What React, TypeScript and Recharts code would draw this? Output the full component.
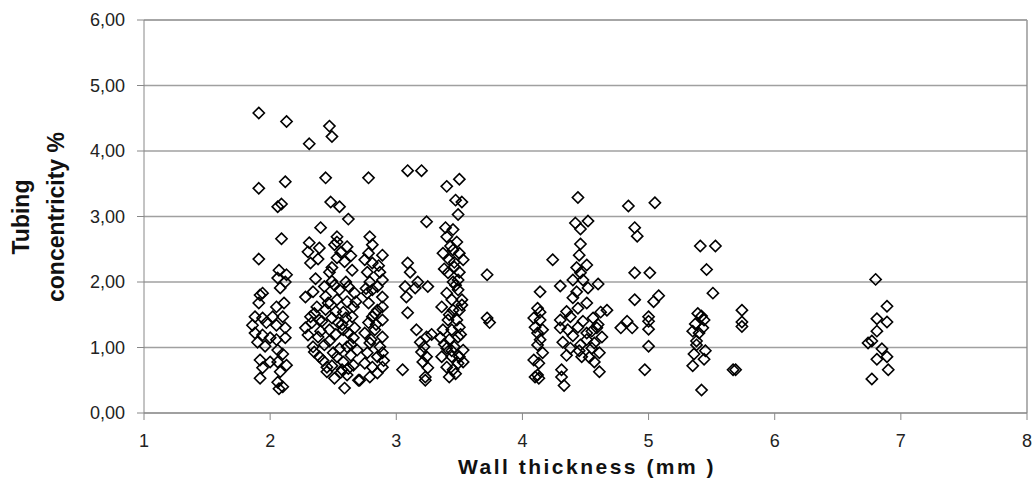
import React from "react";
import {
  ScatterChart,
  Scatter,
  XAxis,
  YAxis,
  CartesianGrid,
  ReferenceLine,
} from "recharts";

// wall thickness (mm) / tubing concentricity (%) pairs, grouped by cluster
const wall19to21: [number, number][] = [
  [1.91, 4.58], [2.13, 4.45], [1.91, 3.43], [2.12, 3.53], [2.09, 3.19], [2.06, 3.15],
  [2.09, 2.66], [1.91, 2.35], [2.07, 2.18], [2.13, 2.11], [2.06, 2.06], [2.12, 2.0],
  [2.08, 1.91], [1.94, 1.83], [1.92, 1.8], [1.91, 1.68], [2.05, 1.62], [2.11, 1.68],
  [1.88, 1.47], [1.94, 1.45], [1.86, 1.34], [1.97, 1.38], [2.02, 1.47], [2.1, 1.47],
  [2.12, 1.3], [2.05, 1.34], [1.88, 1.22], [1.94, 1.19], [2.0, 1.15], [1.9, 1.08],
  [2.05, 1.12], [2.12, 1.15], [2.06, 0.96], [1.92, 0.81], [2.0, 0.78], [1.94, 0.69],
  [2.06, 0.78], [2.13, 0.73], [2.08, 0.63], [1.92, 0.53], [2.06, 0.47], [2.1, 0.4],
  [2.07, 0.37], [1.96, 1.02], [2.1, 0.9],
];

const wall23to27: [number, number][] = [
  [2.31, 4.11], [2.47, 4.38], [2.49, 4.22], [2.44, 3.59], [2.48, 3.22], [2.55, 3.15],
  [2.62, 2.96], [2.4, 2.83], [2.31, 2.6], [2.3, 2.46], [2.39, 2.52], [2.32, 2.29],
  [2.53, 2.69], [2.51, 2.57], [2.61, 2.54], [2.53, 2.37], [2.59, 2.31], [2.65, 2.18],
  [2.49, 2.22], [2.53, 2.61], [2.28, 1.77], [2.34, 1.85], [2.43, 1.93], [2.49, 2.01],
  [2.55, 1.88], [2.62, 1.93], [2.67, 1.83], [2.37, 1.62], [2.46, 1.68], [2.53, 1.73],
  [2.61, 1.7], [2.32, 1.47], [2.39, 1.42], [2.49, 1.45], [2.58, 1.54], [2.65, 1.47],
  [2.66, 1.62], [2.33, 1.38], [2.54, 1.38], [2.3, 1.19], [2.38, 1.16], [2.47, 1.27],
  [2.58, 1.27], [2.66, 1.15], [2.43, 1.04], [2.5, 0.92], [2.61, 1.01], [2.69, 0.96],
  [2.34, 1.01], [2.45, 0.7], [2.53, 0.86], [2.58, 0.78], [2.66, 0.73], [2.51, 0.53],
  [2.61, 0.58], [2.7, 0.5], [2.59, 0.38], [2.39, 0.86], [2.57, 0.66], [2.36, 2.05],
  [2.44, 1.78], [2.52, 1.55], [2.57, 1.35], [2.4, 1.25], [2.47, 1.1], [2.62, 1.22],
  [2.55, 0.98], [2.35, 0.93], [2.64, 0.88], [2.42, 0.8], [2.49, 0.72], [2.56, 0.62],
  [2.62, 0.68], [2.45, 0.63], [2.67, 1.3], [2.28, 1.3], [2.6, 2.0], [2.47, 2.15],
  [2.38, 2.35], [2.56, 2.45], [2.64, 2.4], [2.51, 1.95], [2.44, 1.58], [2.35, 1.52],
  [2.6, 1.45], [2.52, 1.2], [2.41, 1.4], [2.68, 1.7], [2.64, 1.05],
];

const wall27to29: [number, number][] = [
  [2.78, 3.59], [2.79, 2.69], [2.81, 2.57], [2.78, 2.44], [2.89, 2.41], [2.75, 2.34],
  [2.81, 2.29], [2.87, 2.15], [2.77, 2.15], [2.89, 2.03], [2.79, 2.0], [2.85, 1.93],
  [2.77, 1.83], [2.81, 1.88], [2.89, 1.77], [2.78, 1.68], [2.85, 1.57], [2.89, 1.62],
  [2.81, 1.47], [2.89, 1.42], [2.78, 1.38], [2.75, 1.22], [2.83, 1.27], [2.89, 1.16],
  [2.79, 1.07], [2.87, 1.01], [2.77, 0.92], [2.85, 0.86], [2.89, 0.92], [2.75, 0.76],
  [2.81, 0.7], [2.89, 0.7], [2.79, 0.55], [2.85, 0.61], [2.71, 0.5], [2.83, 1.52],
  [2.8, 1.12], [2.86, 2.25], [2.76, 1.9], [2.84, 1.35], [2.9, 0.8],
];

const wall30to33: [number, number][] = [
  [3.09, 3.7], [3.2, 3.7], [3.24, 2.92], [3.09, 2.29], [3.11, 2.15], [3.07, 1.93],
  [3.17, 2.0], [3.25, 1.93], [3.15, 1.91], [3.08, 1.77], [3.09, 1.53], [3.16, 1.27],
  [3.24, 1.16], [3.19, 1.08], [3.2, 0.93], [3.24, 0.86], [3.21, 0.78], [3.25, 0.69],
  [3.23, 0.55], [3.23, 0.5], [3.05, 0.66], [3.22, 1.01], [3.28, 1.2],
];

const wall34to35: [number, number][] = [
  [3.4, 3.46], [3.5, 3.57], [3.47, 3.25], [3.52, 3.22], [3.49, 3.03], [3.39, 2.83],
  [3.45, 2.8], [3.4, 2.69], [3.48, 2.61], [3.45, 2.49], [3.37, 2.44], [3.5, 2.44],
  [3.42, 2.34], [3.53, 2.34], [3.46, 2.23], [3.41, 2.14], [3.5, 2.15], [3.45, 2.0],
  [3.49, 2.03], [3.4, 1.83], [3.49, 1.88], [3.44, 1.73], [3.52, 1.73], [3.36, 1.62],
  [3.45, 1.57], [3.5, 1.57], [3.41, 1.42], [3.48, 1.42], [3.37, 1.27], [3.44, 1.27],
  [3.5, 1.31], [3.35, 1.15], [3.42, 1.12], [3.49, 1.16], [3.4, 0.99], [3.46, 1.01],
  [3.53, 0.96], [3.36, 0.86], [3.44, 0.86], [3.5, 0.86], [3.4, 0.7], [3.45, 0.66],
  [3.49, 0.76], [3.42, 0.55], [3.53, 0.78], [3.43, 2.55], [3.38, 2.2], [3.47, 1.95],
  [3.42, 1.5], [3.51, 1.2], [3.38, 1.05], [3.47, 0.6], [3.44, 0.95], [3.46, 2.3],
  [3.52, 1.65],
];

const wall37: [number, number][] = [
  [3.72, 2.11], [3.72, 1.45], [3.74, 1.38],
];

const wall41: [number, number][] = [
  [4.14, 1.85], [4.12, 1.6], [4.14, 1.54], [4.09, 1.45], [4.14, 1.42], [4.1, 1.31],
  [4.16, 1.27], [4.12, 1.22], [4.14, 1.12], [4.12, 1.04], [4.16, 0.92], [4.09, 0.81],
  [4.13, 0.76], [4.12, 0.58], [4.13, 0.53], [4.1, 0.55],
];

const wall42to46: [number, number][] = [
  [4.44, 3.29], [4.42, 2.9], [4.52, 2.93], [4.46, 2.81], [4.46, 2.58], [4.24, 2.34],
  [4.45, 2.41], [4.43, 2.22], [4.51, 2.26], [4.46, 2.14], [4.4, 2.03], [4.48, 2.03],
  [4.3, 1.94], [4.6, 1.97], [4.52, 1.91], [4.43, 1.85], [4.4, 1.76], [4.51, 1.68],
  [4.44, 1.6], [4.62, 1.54], [4.67, 1.57], [4.56, 1.45], [4.38, 1.47], [4.3, 1.42],
  [4.3, 1.3], [4.36, 1.27], [4.44, 1.31], [4.51, 1.22], [4.59, 1.3], [4.63, 1.16],
  [4.57, 1.07], [4.32, 1.08], [4.38, 0.99], [4.46, 1.04], [4.51, 1.12], [4.55, 0.99],
  [4.61, 0.92], [4.47, 0.86], [4.57, 0.78], [4.61, 0.63], [4.31, 0.66], [4.31, 0.55],
  [4.33, 0.42], [4.35, 1.55], [4.48, 1.4], [4.55, 1.25], [4.4, 1.18], [4.6, 1.35],
  [4.45, 0.95], [4.53, 0.85], [4.35, 0.88],
];

const wall48to51: [number, number][] = [
  [4.84, 3.16], [5.05, 3.21], [4.89, 2.83], [4.91, 2.7], [4.89, 2.14], [5.01, 2.14],
  [4.89, 1.73], [5.08, 1.79], [5.04, 1.7], [4.78, 1.3], [4.83, 1.4], [4.87, 1.3],
  [5.0, 1.47], [5.0, 1.4], [5.0, 1.28], [5.0, 1.02], [4.97, 0.66],
];

const wall54to57: [number, number][] = [
  [5.41, 2.55], [5.53, 2.55], [5.46, 2.19], [5.51, 1.83], [5.39, 1.52], [5.42, 1.48],
  [5.44, 1.42], [5.37, 1.36], [5.35, 1.25], [5.4, 1.22], [5.38, 1.04], [5.45, 0.95],
  [5.36, 0.9], [5.44, 0.82], [5.35, 0.72], [5.42, 0.35], [5.38, 1.1], [5.43, 1.3],
  [5.74, 1.57], [5.74, 1.39], [5.74, 1.32], [5.67, 0.66], [5.69, 0.66],
];

const wall68: [number, number][] = [
  [6.8, 2.04], [6.89, 1.63], [6.81, 1.44], [6.89, 1.39], [6.81, 1.25], [6.74, 1.07],
  [6.77, 1.1], [6.85, 0.98], [6.89, 0.86], [6.81, 0.82], [6.9, 0.66], [6.77, 0.52],
];

const xTicks = [1, 2, 3, 4, 5, 6, 7, 8];
const yTicks = [0, 1, 2, 3, 4, 5, 6];

const points = [
  ...wall19to21,
  ...wall23to27,
  ...wall27to29,
  ...wall30to33,
  ...wall34to35,
  ...wall37,
  ...wall41,
  ...wall42to46,
  ...wall48to51,
  ...wall54to57,
  ...wall68,
].map(([x, y]) => ({ x, y }));

const FONT = "'Liberation Sans', Arial, sans-serif";

const Diamond = (props: any) => {
  const { cx, cy } = props;
  if (cx == null || cy == null) return null;
  const r = 5.6;
  return (
    <path
      d={`M${cx},${cy - r}L${cx + r},${cy}L${cx},${cy + r}L${cx - r},${cy}Z`}
      fill="none"
      stroke="#000"
      strokeWidth={1.6}
    />
  );
};

const YTitle = () => (
  <g fontFamily={FONT} fontWeight="bold" fontSize={23} fill="#111">
    <text x={21} y={217} transform="rotate(-90 21 217)" textAnchor="middle" dominantBaseline="central">
      Tubing
    </text>
    <text x={56} y={217} transform="rotate(-90 56 217)" textAnchor="middle" dominantBaseline="central">
      concentricity %
    </text>
  </g>
);

const XTitle = () => (
  <text
    x={587}
    y={466}
    textAnchor="middle"
    dominantBaseline="central"
    fontFamily={FONT}
    fontWeight="bold"
    fontSize={21}
    letterSpacing={2.5}
    fill="#111">
    Wall thickness (mm )
  </text>
);

export default function App() {
  return (
    <div
      style={{
        position: "fixed",
        left: 0,
        top: 0,
        width: 1035,
        height: 483,
        background: "#fff",
      }}>
      <ScatterChart
        width={1035}
        height={483}
        margin={{ top: 20, right: 8, bottom: 20, left: 0 }}>
        <CartesianGrid vertical={false} stroke="#a0a0a0" strokeWidth={1.3} />
        <XAxis
          type="number"
          dataKey="x"
          domain={[1, 8]}
          ticks={xTicks}
          height={50}
          tickSize={7}
          tickMargin={14}
          stroke="#888"
          tick={{ fill: "#222", fontSize: 18, fontFamily: FONT }}
          label={{ content: () => <XTitle /> }}
        />
        <YAxis
          type="number"
          dataKey="y"
          domain={[0, 6]}
          ticks={yTicks}
          width={144}
          tickSize={7}
          tickMargin={12}
          stroke="#888"
          tickFormatter={(v: number) => v.toFixed(2).replace(".", ",")}
          tick={{ fill: "#222", fontSize: 18, fontFamily: FONT }}
          label={{ content: () => <YTitle /> }}
        />
        <ReferenceLine x={8} stroke="#888" strokeWidth={1.3} />
        <ReferenceLine y={6} stroke="#a0a0a0" strokeWidth={1.3} />
        <Scatter data={points} shape={Diamond} isAnimationActive={false} />
      </ScatterChart>
    </div>
  );
}
